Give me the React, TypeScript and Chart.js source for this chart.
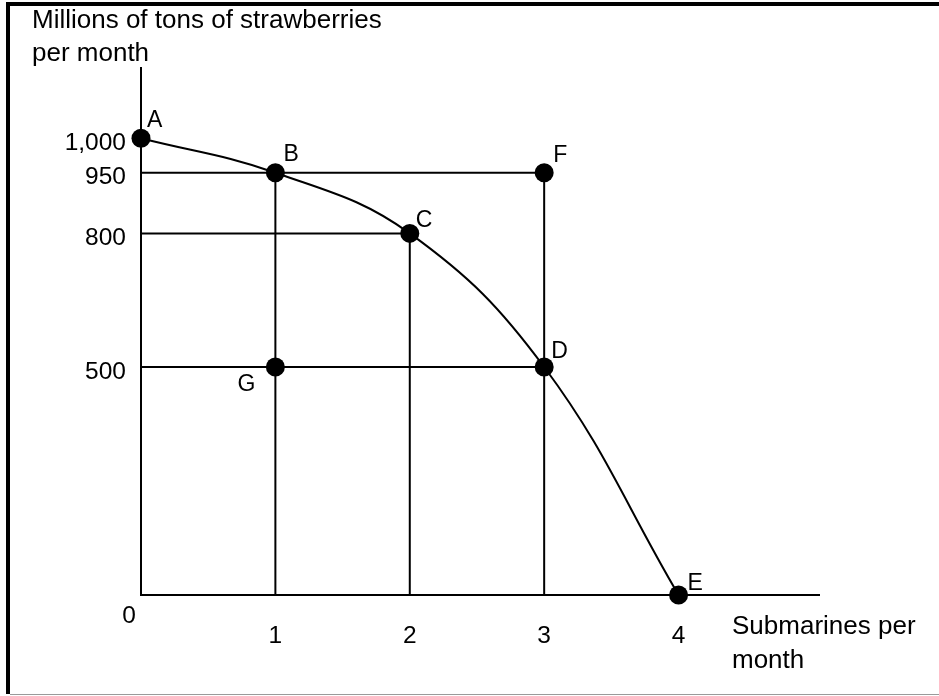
import React, { useEffect, useRef } from 'react';
import { Chart, registerables, LinearScale } from 'chart.js';

Chart.register(...registerables);

// ---- data ----
const curveNames = ['A', 'B', 'C', 'D', 'E'];
const curveSubmarines = [0, 1, 2, 3, 4];
const curveStrawberries = [1000, 950, 800, 500, 0];

const offNames = ['F', 'G'];
const offSubmarines = [3, 1];
const offStrawberries = [950, 500];

// guide segments: [x1, y1, x2, y2]
const guideSegments = [
  [0, 950, 3, 950],
  [1, 950, 1, 0],
  [0, 800, 2, 800],
  [2, 800, 2, 0],
  [0, 500, 3, 500],
  [3, 950, 3, 0],
];

const xTickValues = [1, 2, 3, 4];
const xTickLabels = ['1', '2', '3', '4'];
const yTickValues = [500, 800, 950, 1000];
const yTickLabels = ['500', '800', '950', '1,000'];
const originLabel = '0';

const yTitleLines = ['Millions of tons of strawberries', 'per month'];
const xTitleLines = ['Submarines per', 'month'];

// The original drawing is not exactly to scale on the y axis: piecewise mapping
const yKnotValues = [0, 500, 800, 950, 1000, 1200];
const yKnotDrawn = [0, 500, 793, 926, 1001.5, 1201.5];

const FONT = "'Liberation Sans', Arial, Helvetica, sans-serif";

class WarpedScale extends LinearScale {
  static id = 'warped';
  static defaults = {};
  warpValue(v: number) {
    const opts: any = this.options;
    const kv: number[] = opts.knotValues;
    const kd: number[] = opts.knotDrawn;
    if (!kv || !kd || kv.length < 2) return v;
    for (let i = 1; i < kv.length; i++) {
      if (v <= kv[i] || i === kv.length - 1) {
        return kd[i - 1] + ((v - kv[i - 1]) * (kd[i] - kd[i - 1])) / (kv[i] - kv[i - 1]);
      }
    }
    return v;
  }
  getPixelForValue(value: any) {
    if (value === null || value === undefined || isNaN(value)) return NaN;
    return super.getPixelForValue(this.warpValue(+value));
  }
}
Chart.register(WarpedScale as any);

const labelStyle: Record<string, { dx: number; dy: number; align: CanvasTextAlign }> = {
  A: { dx: 6, dy: -11, align: 'left' },
  B: { dx: 8, dy: -12, align: 'left' },
  C: { dx: 6, dy: -6, align: 'left' },
  D: { dx: 7, dy: -9, align: 'left' },
  E: { dx: 9, dy: -5, align: 'left' },
  F: { dx: 9, dy: -11, align: 'left' },
  G: { dx: -20, dy: 24, align: 'right' },
};

const annotatePlugin = {
  id: 'annotate',
  beforeDraw(chart: any) {
    const ctx = chart.ctx as CanvasRenderingContext2D;
    ctx.save();
    ctx.fillStyle = '#fff';
    ctx.fillRect(0, 0, chart.width, chart.height);
    ctx.fillStyle = '#000';
    ctx.fillRect(6, 2, 4, 692);
    ctx.fillRect(6, 2, chart.width - 6, 4);
    ctx.fillStyle = '#9a9a9a';
    ctx.fillRect(10, 694, chart.width - 10, 1);
    ctx.restore();
  },
  afterDatasetsDraw(chart: any) {
    const ctx = chart.ctx as CanvasRenderingContext2D;
    const xs = chart.scales.x;
    const ys = chart.scales.y;
    ctx.save();
    ctx.fillStyle = '#000';
    ctx.textBaseline = 'alphabetic';
    ctx.font = `23px ${FONT}`;
    const names = [...curveNames, ...offNames];
    const xv = [...curveSubmarines, ...offSubmarines];
    const yv = [...curveStrawberries, ...offStrawberries];
    names.forEach((n, i) => {
      const st = labelStyle[n];
      ctx.textAlign = st.align;
      ctx.fillText(n, xs.getPixelForValue(xv[i]) + st.dx, ys.getPixelForValue(yv[i]) + st.dy);
    });
    // origin label
    ctx.font = `24.5px ${FONT}`;
    ctx.textAlign = 'center';
    ctx.fillText(originLabel, xs.getPixelForValue(0) - 12, ys.getPixelForValue(0) + 28);
    // axis titles
    ctx.font = `26px ${FONT}`;
    ctx.textAlign = 'left';
    ctx.fillText(yTitleLines[0], 32, 27.5);
    ctx.fillText(yTitleLines[1], 32, 61);
    ctx.fillText(xTitleLines[0], xs.right - 87, 634);
    ctx.fillText(xTitleLines[1], xs.right - 87, 668);
    ctx.restore();
  },
};

export default function App() {
  const ref = useRef<HTMLCanvasElement | null>(null);
  useEffect(() => {
    if (!ref.current) return;
    const black = '#000';
    const datasets: any[] = [];
    guideSegments.forEach((s) => {
      datasets.push({
        type: 'line',
        data: [
          { x: s[0], y: s[1] },
          { x: s[2], y: s[3] },
        ],
        borderColor: black,
        borderWidth: 2,
        pointRadius: 0,
        tension: 0,
        clip: false,
      });
    });
    datasets.push({
      type: 'line',
      label: 'PPF',
      data: curveSubmarines.map((x, i) => ({ x, y: curveStrawberries[i] })),
      borderColor: black,
      borderWidth: 2,
      pointRadius: 9.5,
      pointBorderWidth: 0,
      pointBackgroundColor: black,
      tension: 0.4,
      clip: false,
    });
    datasets.push({
      type: 'scatter',
      label: 'Other',
      data: offSubmarines.map((x, i) => ({ x, y: offStrawberries[i] })),
      pointRadius: 9.5,
      pointBorderWidth: 0,
      pointBackgroundColor: black,
      showLine: false,
      clip: false,
    });

    const chart = new Chart(ref.current, {
      type: 'line',
      data: { datasets },
      plugins: [annotatePlugin],
      options: {
        animation: false,
        responsive: false,
        devicePixelRatio: 1,
        events: [],
        layout: { padding: { top: 68, right: 120, bottom: 0, left: 0 } },
        plugins: { legend: { display: false }, tooltip: { enabled: false }, title: { display: false } },
        scales: {
          x: {
            type: 'linear',
            min: 0,
            max: 5.045,
            afterFit: (s: any) => {
              s.height = 101;
            },
            afterBuildTicks: (s: any) => {
              s.ticks = xTickValues.map((v) => ({ value: v }));
            },
            grid: { display: false, drawTicks: false },
            border: { display: true, color: black, width: 2 },
            ticks: {
              color: black,
              font: { family: FONT, size: 24.5 },
              padding: 27,
              maxRotation: 0,
              autoSkip: false,
              callback: (v: any) => {
                const i = xTickValues.indexOf(Number(v));
                return i >= 0 ? xTickLabels[i] : '';
              },
            },
          },
          y: {
            type: 'warped' as any,
            min: 0,
            max: 1155.7,
            knotValues: yKnotValues,
            knotDrawn: yKnotDrawn,
            afterFit: (s: any) => {
              s.width = 141;
            },
            afterBuildTicks: (s: any) => {
              s.ticks = yTickValues.map((v) => ({ value: v }));
            },
            grid: { display: false, drawTicks: false },
            border: { display: true, color: black, width: 2 },
            ticks: {
              color: black,
              font: { family: FONT, size: 24.5 },
              padding: 15,
              labelOffset: 5,
              autoSkip: false,
              callback: (v: any) => {
                const i = yTickValues.indexOf(Number(v));
                return i >= 0 ? yTickLabels[i] : '';
              },
            },
          } as any,
        },
      } as any,
    });
    return () => chart.destroy();
  }, []);
  return (
    <div style={{ position: 'fixed', left: 0, top: 0, width: 939, height: 696, background: '#fff' }}>
      <canvas ref={ref} width={939} height={696} style={{ display: 'block' }} />
    </div>
  );
}
